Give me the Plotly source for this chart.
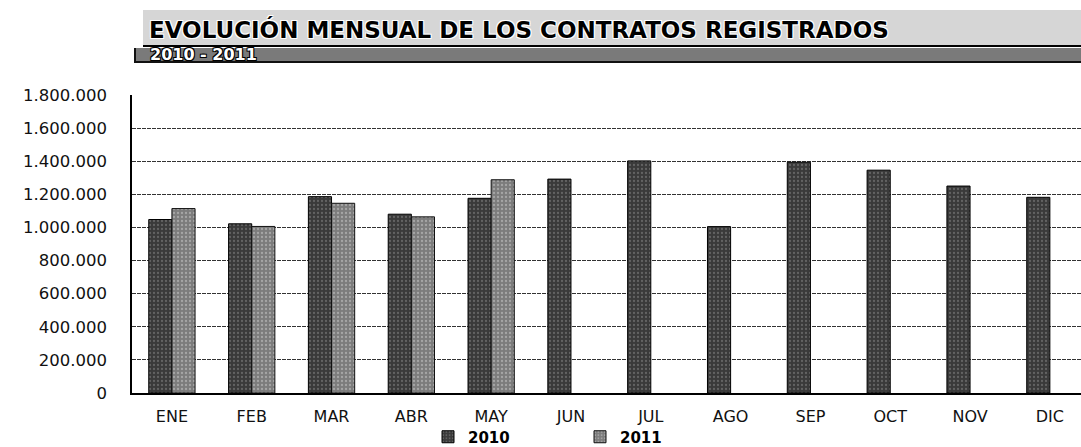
import plotly.graph_objects as go

# ---- data ----
months = ["ENE", "FEB", "MAR", "ABR", "MAY", "JUN", "JUL", "AGO", "SEP", "OCT", "NOV", "DIC"]
contratos_2010 = [1048000, 1022000, 1186000, 1080000, 1176000, 1292000, 1402000, 1005000, 1394000, 1346000, 1250000, 1182000]
contratos_2011 = [1114000, 1006000, 1146000, 1064000, 1288000, None, None, None, None, None, None, None]
y_ticks = [0, 200000, 400000, 600000, 800000, 1000000, 1200000, 1400000, 1600000, 1800000]
title_text = "EVOLUCIÓN MENSUAL DE LOS CONTRATOS REGISTRADOS"
subtitle_text = "2010 - 2011"

# ---- layout geometry (pixels) ----
W, H = 1081, 447
L, R, T, B = 132, 1081, 95, 393


def px_x(p):
    return (p - L) / (R - L)


def px_y(p):
    return (B - p) / (B - T)


fig = go.Figure()
fig.add_trace(go.Bar(
    name="2010", x=months, y=contratos_2010,
    marker=dict(color="#3a3a3a", line=dict(color="#000000", width=1),
                pattern=dict(shape=".", fgcolor="#8c8c8c", size=4, solidity=0.25)),
))
fig.add_trace(go.Bar(
    name="2011", x=months, y=contratos_2011,
    marker=dict(color="#7c7c7c", line=dict(color="#111111", width=1),
                pattern=dict(shape=".", fgcolor="#d0d0d0", size=4, solidity=0.25)),
))

shadow_white = "1px 1px 0 #fff, -1px -1px 0 #fff, 1px -1px 0 #fff, -1px 1px 0 #fff"
shadow_black = "1px 1px 0 #000, -1px -1px 0 #000, 1px -1px 0 #000, -1px 1px 0 #000"

shapes = [
    # title band
    dict(type="rect", xref="paper", yref="paper", x0=px_x(143), x1=px_x(1081),
         y0=px_y(45), y1=px_y(10), fillcolor="#d6d6d6", line=dict(width=0), layer="below"),
    dict(type="line", xref="paper", yref="paper", x0=px_x(143), x1=px_x(1081),
         y0=px_y(46), y1=px_y(46), line=dict(color="#000000", width=2)),
    # subtitle band
    dict(type="rect", xref="paper", yref="paper", x0=px_x(134), x1=px_x(1081),
         y0=px_y(62), y1=px_y(48), fillcolor="#7a7a7a", line=dict(width=0), layer="below"),
    dict(type="line", xref="paper", yref="paper", x0=px_x(134), x1=px_x(1081),
         y0=px_y(62), y1=px_y(62), line=dict(color="#111111", width=2)),
    dict(type="line", xref="paper", yref="paper", x0=px_x(135), x1=px_x(135),
         y0=px_y(62), y1=px_y(48), line=dict(color="#111111", width=2)),
]

annotations = [
    dict(text="<b>" + title_text + "</b>", xref="paper", yref="paper",
         x=px_x(147), y=px_y(29), xanchor="left", yanchor="middle", showarrow=False,
         font=dict(family="DejaVu Sans", size=23, color="#000000", shadow=shadow_white)),
    dict(text="<b>" + subtitle_text + "</b>", xref="paper", yref="paper",
         x=px_x(148), y=px_y(55), xanchor="left", yanchor="middle", showarrow=False,
         font=dict(family="DejaVu Sans", size=16, color="#ffffff", shadow=shadow_black)),
]

fig.update_layout(
    width=W, height=H,
    margin=dict(l=L, r=W - R, t=T, b=H - B, pad=0, autoexpand=False),
    paper_bgcolor="#ffffff", plot_bgcolor="#ffffff",
    barmode="group", bargap=0.42, bargroupgap=0.0,
    separators=",.",
    shapes=shapes, annotations=annotations,
    showlegend=True,
    legend=dict(orientation="h", x=px_x(428), xanchor="left", y=px_y(437), yanchor="middle",
                entrywidth=107, entrywidthmode="pixels",
                font=dict(family="DejaVu Sans", size=15, color="#000000", weight="bold"),
                bgcolor="rgba(0,0,0,0)"),
    font=dict(family="DejaVu Sans", color="#111111"),
)

fig.update_xaxes(
    type="category", range=[-0.5, 11.39], automargin=False,
    showline=True, linecolor="#000000", linewidth=2,
    showgrid=False, ticks="", ticklabelstandoff=8,
    tickfont=dict(family="DejaVu Sans", size=16, color="#111111"),
)
fig.update_yaxes(
    range=[0, 1800000], tickvals=y_ticks, tickformat=",d", automargin=False,
    showline=True, linecolor="#000000", linewidth=1.5,
    showgrid=True, gridcolor="#333333", gridwidth=1, griddash="4px,1px",
    zeroline=False, ticks="", ticklabelstandoff=20,
    tickfont=dict(family="DejaVu Sans", size=16.5, color="#111111"),
)

fig.write_html(
    "out.html",
    config={"displayModeBar": False},
    post_script="document.body.style.margin='0';document.body.style.overflow='hidden';",
)
